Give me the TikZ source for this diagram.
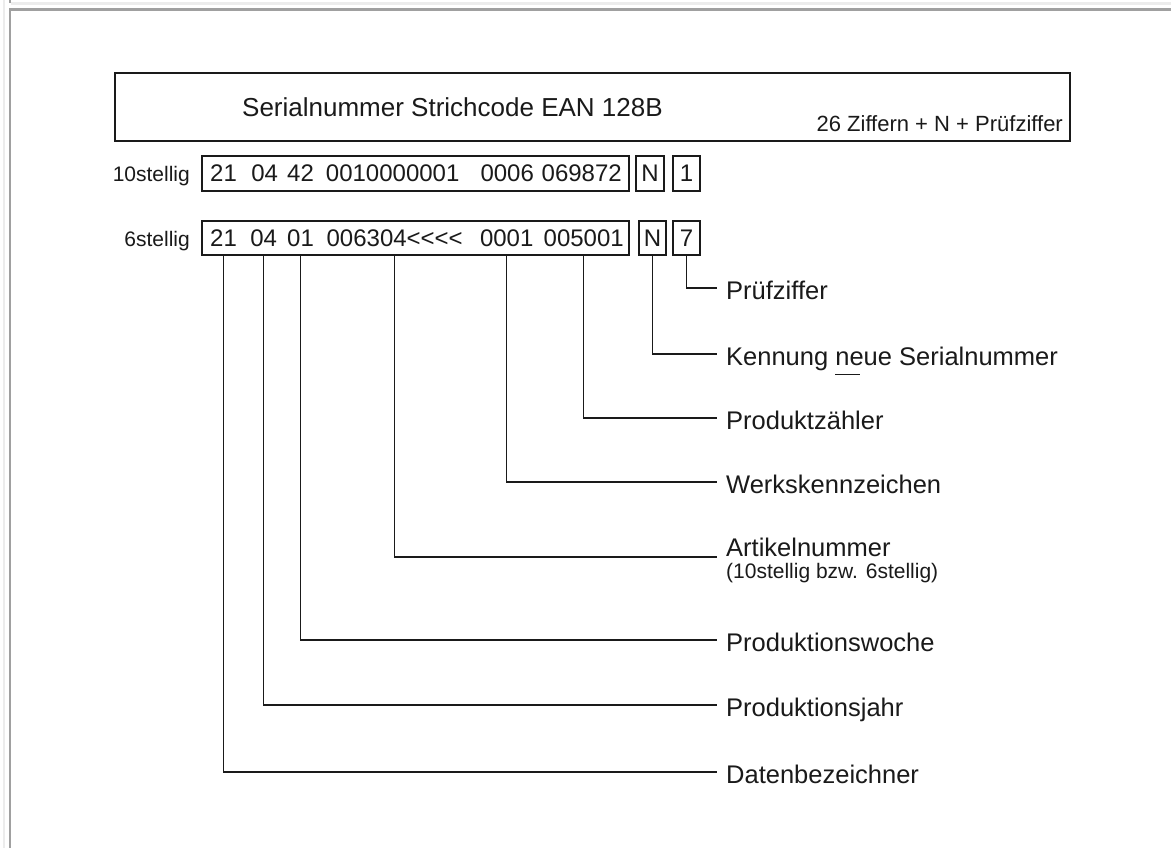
\documentclass[tikz,border=0pt]{standalone}
\usepackage{fontspec}
\setmainfont{Liberation Sans}
\definecolor{ink}{HTML}{1A1A1A}
\definecolor{framelight}{HTML}{ECECEC}
\definecolor{framedark}{HTML}{A0A0A0}
\begin{document}
\begin{tikzpicture}[x=1pt,y=-1pt,
  lab/.style={font=\fontsize{25.5pt}{30pt}\selectfont, inner sep=0, anchor=base west, text=ink},
  small/.style={font=\fontsize{21pt}{25pt}\selectfont, inner sep=0, text=ink},
  tok/.style={font=\fontsize{24pt}{28pt}\selectfont, inner xsep=0, inner ysep=0, anchor=base west, text=ink},
  cell/.style={draw=ink, line width=1.4pt, inner sep=0, font=\fontsize{24pt}{28pt}\selectfont, text=ink},
  conn/.style={draw=ink, line width=1.3pt}]
\useasboundingbox (0,0) rectangle (1171,848);
\fill[white] (0,0) rectangle (1171,848);
% window frame
\fill[framelight] (2.5,0) rectangle (5,848);
\fill[framelight] (11,2.5) rectangle (1171,5);
\fill[framedark] (8.5,0) rectangle (10.8,3);
\fill[framedark] (8.5,8.5) rectangle (10.8,848);
\fill[framedark] (8.5,8.5) rectangle (1171,10.8);
% title box
\node[draw=ink, line width=1.8pt, minimum width=955pt, minimum height=68pt, inner sep=0] (title) at (592.5,107) {};
\node[font=\fontsize{26pt}{30pt}\selectfont, inner sep=0, anchor=base west, text=ink] (ttext) at (242,117) {Serialnummer Strichcode EAN 128B};
\node[font=\fontsize{22pt}{26pt}\selectfont, inner sep=0, anchor=base east, text=ink] (tsub) at (1063,132) {26 Ziffern + N + Prüfziffer};
% row labels
\node[small, anchor=base east] (l10) at (190,182) {10stellig};
\node[small, anchor=base east] (l6) at (190,247) {6stellig};
% row 1
\node[cell, minimum width=427pt, minimum height=35pt] (box1) at (415.5,173.5) {};
\node[cell, minimum width=28pt, minimum height=35pt] (n1) at (650,173.5) {N};
\node[cell, minimum width=27pt, minimum height=35pt] (p1) at (686.5,173.5) {1};
\node[tok, minimum width=24pt] (t1a) at (210,182) {21};
\node[tok, minimum width=27pt] (t1b) at (251,182) {04};
\node[tok, minimum width=26pt] (t1c) at (287,182) {42};
\node[tok, minimum width=135pt] (t1d) at (325,182) {0010000001};
\node[tok, minimum width=54pt] (t1e) at (480,182) {0006};
\node[tok, minimum width=81pt] (t1f) at (541,182) {069872};
% row 2
\node[cell, minimum width=427pt, minimum height=34pt] (box2) at (415.5,238) {};
\node[cell, minimum width=27pt, minimum height=34pt] (n2) at (652.5,238) {N};
\node[cell, minimum width=27pt, minimum height=34pt] (p2) at (686.5,238) {7};
\node[tok, minimum width=26pt] (t2a) at (210,247) {21};
\node[tok, minimum width=27pt] (t2b) at (250,247) {04};
\node[tok, minimum width=26pt] (t2c) at (287,247) {01};
\node[tok, minimum width=149pt] (t2d) at (320,247) {006304<\kern0pt<\kern0pt<\kern0pt<};
\node[tok, minimum width=55pt] (t2e) at (479,247) {0001};
\node[tok, minimum width=81pt] (t2f) at (543,247) {005001};
% connector ends
\coordinate (eP) at (717,288);
\coordinate (eK) at (717,354);
\coordinate (eZ) at (717,418);
\coordinate (eW) at (717,482);
\coordinate (eA) at (717,557);
\coordinate (eO) at (717,640);
\coordinate (eJ) at (717,705);
\coordinate (eD) at (717,772);
% labels
\node[lab] (lP) at (726,299) {Prüfziffer};
\node[lab] (lK) at (726,365) {Kennung \rlap{\rule[-10pt]{25pt}{1.3pt}}neue Serialnummer};
\node[lab] (lZ) at (726,429) {Produktzähler};
\node[lab] (lW) at (726,493) {Werkskennzeichen};
\node[lab] (lA) at (726,556) {Artikelnummer};
\node[small, anchor=base west] (lA2) at (726,578) {(10stellig bzw. 6stellig)};
\node[lab] (lO) at (726,651) {Produktionswoche};
\node[lab] (lJ) at (726,716) {Produktionsjahr};
\node[lab] (lD) at (726,783) {Datenbezeichner};
% connectors
\draw[conn] (p2.south) |- (eP);
\draw[conn] (n2.south) |- (eK);
\draw[conn] (t2f |- box2.south) |- (eZ);
\draw[conn] (t2e |- box2.south) |- (eW);
\draw[conn] (t2d |- box2.south) |- (eA);
\draw[conn] (t2c |- box2.south) |- (eO);
\draw[conn] (t2b |- box2.south) |- (eJ);
\draw[conn] (t2a |- box2.south) |- (eD);
\end{tikzpicture}
\end{document}
